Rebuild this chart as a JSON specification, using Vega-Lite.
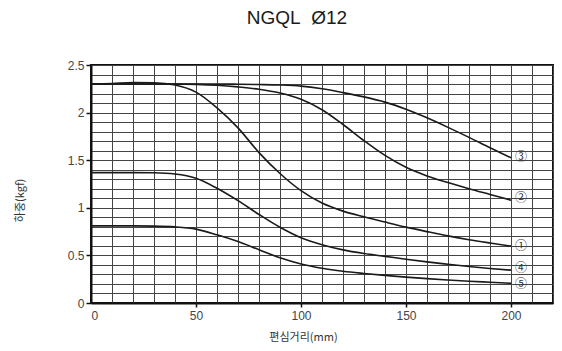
{
  "$schema": "https://vega.github.io/schema/vega-lite/v6.json",
  "autosize": "none",
  "width": 462,
  "height": 238,
  "padding": {"left": 91, "top": 65, "right": 9, "bottom": 48},
  "background": "white",
  "title": {
    "text": "NGQL\u00a0 Ø12",
    "font": "Liberation Sans",
    "fontSize": 19,
    "fontWeight": "normal",
    "color": "#1a1a1a",
    "anchor": "middle",
    "baseline": "bottom",
    "offset": 12,
    "dx": -25
  },
  "config": {
    "view": {"stroke": "#111", "strokeWidth": 2},
    "axis": {
      "labelFont": "Liberation Sans",
      "labelFontSize": 12,
      "labelColor": "#444",
      "labelOverlap": false,
      "titleFont": "Noto Sans CJK KR",
      "titleFontSize": 11,
      "titleFontWeight": "normal",
      "titleColor": "#333",
      "domainColor": "#111",
      "domainWidth": 2,
      "tickColor": "#111",
      "tickWidth": 1.5,
      "gridColor": "#444",
      "gridWidth": 1,
      "gridOpacity": 1
    }
  },
  "datasets": {
    "curves": [
      {"x": 0, "y": 2.30, "s": "3"}, {"x": 10, "y": 2.30, "s": "3"}, {"x": 20, "y": 2.30, "s": "3"}, {"x": 30, "y": 2.30, "s": "3"}, {"x": 40, "y": 2.30, "s": "3"}, {"x": 50, "y": 2.30, "s": "3"}, {"x": 60, "y": 2.30, "s": "3"}, {"x": 70, "y": 2.298, "s": "3"}, {"x": 80, "y": 2.295, "s": "3"}, {"x": 90, "y": 2.29, "s": "3"}, {"x": 100, "y": 2.278, "s": "3"}, {"x": 110, "y": 2.25, "s": "3"}, {"x": 120, "y": 2.21, "s": "3"}, {"x": 130, "y": 2.165, "s": "3"}, {"x": 140, "y": 2.11, "s": "3"}, {"x": 150, "y": 2.035, "s": "3"}, {"x": 160, "y": 1.945, "s": "3"}, {"x": 170, "y": 1.845, "s": "3"}, {"x": 180, "y": 1.74, "s": "3"}, {"x": 190, "y": 1.63, "s": "3"}, {"x": 200, "y": 1.525, "s": "3"},
      {"x": 0, "y": 2.30, "s": "2"}, {"x": 10, "y": 2.30, "s": "2"}, {"x": 20, "y": 2.30, "s": "2"}, {"x": 30, "y": 2.30, "s": "2"}, {"x": 40, "y": 2.30, "s": "2"}, {"x": 50, "y": 2.297, "s": "2"}, {"x": 60, "y": 2.288, "s": "2"}, {"x": 70, "y": 2.27, "s": "2"}, {"x": 80, "y": 2.245, "s": "2"}, {"x": 90, "y": 2.205, "s": "2"}, {"x": 100, "y": 2.14, "s": "2"}, {"x": 110, "y": 2.03, "s": "2"}, {"x": 120, "y": 1.875, "s": "2"}, {"x": 130, "y": 1.705, "s": "2"}, {"x": 140, "y": 1.55, "s": "2"}, {"x": 150, "y": 1.425, "s": "2"}, {"x": 160, "y": 1.335, "s": "2"}, {"x": 170, "y": 1.265, "s": "2"}, {"x": 180, "y": 1.2, "s": "2"}, {"x": 190, "y": 1.14, "s": "2"}, {"x": 200, "y": 1.08, "s": "2"},
      {"x": 0, "y": 2.30, "s": "1"}, {"x": 10, "y": 2.305, "s": "1"}, {"x": 20, "y": 2.315, "s": "1"}, {"x": 30, "y": 2.313, "s": "1"}, {"x": 40, "y": 2.29, "s": "1"}, {"x": 50, "y": 2.215, "s": "1"}, {"x": 60, "y": 2.05, "s": "1"}, {"x": 70, "y": 1.84, "s": "1"}, {"x": 80, "y": 1.58, "s": "1"}, {"x": 90, "y": 1.36, "s": "1"}, {"x": 100, "y": 1.18, "s": "1"}, {"x": 110, "y": 1.05, "s": "1"}, {"x": 120, "y": 0.965, "s": "1"}, {"x": 130, "y": 0.905, "s": "1"}, {"x": 140, "y": 0.85, "s": "1"}, {"x": 150, "y": 0.797, "s": "1"}, {"x": 160, "y": 0.75, "s": "1"}, {"x": 170, "y": 0.705, "s": "1"}, {"x": 180, "y": 0.665, "s": "1"}, {"x": 190, "y": 0.63, "s": "1"}, {"x": 200, "y": 0.597, "s": "1"},
      {"x": 0, "y": 1.37, "s": "4"}, {"x": 10, "y": 1.37, "s": "4"}, {"x": 20, "y": 1.37, "s": "4"}, {"x": 30, "y": 1.368, "s": "4"}, {"x": 40, "y": 1.355, "s": "4"}, {"x": 50, "y": 1.31, "s": "4"}, {"x": 60, "y": 1.205, "s": "4"}, {"x": 70, "y": 1.075, "s": "4"}, {"x": 80, "y": 0.93, "s": "4"}, {"x": 90, "y": 0.795, "s": "4"}, {"x": 100, "y": 0.685, "s": "4"}, {"x": 110, "y": 0.612, "s": "4"}, {"x": 120, "y": 0.558, "s": "4"}, {"x": 130, "y": 0.52, "s": "4"}, {"x": 140, "y": 0.49, "s": "4"}, {"x": 150, "y": 0.46, "s": "4"}, {"x": 160, "y": 0.432, "s": "4"}, {"x": 170, "y": 0.407, "s": "4"}, {"x": 180, "y": 0.383, "s": "4"}, {"x": 190, "y": 0.363, "s": "4"}, {"x": 200, "y": 0.345, "s": "4"},
      {"x": 0, "y": 0.81, "s": "5"}, {"x": 10, "y": 0.81, "s": "5"}, {"x": 20, "y": 0.81, "s": "5"}, {"x": 30, "y": 0.808, "s": "5"}, {"x": 40, "y": 0.80, "s": "5"}, {"x": 50, "y": 0.776, "s": "5"}, {"x": 60, "y": 0.716, "s": "5"}, {"x": 70, "y": 0.645, "s": "5"}, {"x": 80, "y": 0.56, "s": "5"}, {"x": 90, "y": 0.475, "s": "5"}, {"x": 100, "y": 0.41, "s": "5"}, {"x": 110, "y": 0.365, "s": "5"}, {"x": 120, "y": 0.333, "s": "5"}, {"x": 130, "y": 0.31, "s": "5"}, {"x": 140, "y": 0.29, "s": "5"}, {"x": 150, "y": 0.272, "s": "5"}, {"x": 160, "y": 0.256, "s": "5"}, {"x": 170, "y": 0.242, "s": "5"}, {"x": 180, "y": 0.229, "s": "5"}, {"x": 190, "y": 0.218, "s": "5"}, {"x": 200, "y": 0.207, "s": "5"}
    ],
    "labels": [
      {"x": 200, "y": 1.534, "t": "③"},
      {"x": 200, "y": 1.1, "t": "②"},
      {"x": 200, "y": 0.6, "t": "①"},
      {"x": 200, "y": 0.37, "t": "④"},
      {"x": 200, "y": 0.195, "t": "⑤"}
    ]
  },
  "encoding": {
    "x": {
      "field": "x", "type": "quantitative",
      "scale": {"domain": [0, 220], "nice": false},
      "axis": {
        "values": [0, 10, 20, 30, 40, 50, 60, 70, 80, 90, 100, 110, 120, 130, 140, 150, 160, 170, 180, 190, 200, 210, 220],
        "grid": true,
        "labelExpr": "datum.value % 50 === 0 ? '' + datum.value : ''",
        "tickSize": 4,
        "tickOpacity": {"condition": {"test": "datum.value % 50 === 0 && datum.value > 0", "value": 1}, "value": 0},
        "labelPadding": 3,
        "title": "편심거리(mm)",
        "titleX": 212,
        "titleY": 34,
        "titleAlign": "center",
        "titleBaseline": "middle"
      }
    },
    "y": {
      "field": "y", "type": "quantitative",
      "scale": {"domain": [0, 2.5], "nice": false},
      "axis": {
        "values": [0, 0.1, 0.2, 0.3, 0.4, 0.5, 0.6, 0.7, 0.8, 0.9, 1, 1.1, 1.2, 1.3, 1.4, 1.5, 1.6, 1.7, 1.8, 1.9, 2, 2.1, 2.2, 2.3, 2.4, 2.5],
        "grid": true,
        "labelExpr": "round(datum.value * 10) % 5 === 0 ? '' + round(datum.value * 10) / 10 : ''",
        "tickSize": 5,
        "tickOpacity": {"condition": {"test": "round(datum.value * 10) % 5 === 0", "value": 1}, "value": 0},
        "labelPadding": 2,
        "title": "하중(kgf)",
        "titleX": -71,
        "titleY": 135,
        "titleAlign": "center",
        "titleBaseline": "middle",
        "titleAngle": 270
      }
    }
  },
  "layer": [
    {
      "data": {"name": "curves"},
      "mark": {"type": "line", "interpolate": "monotone", "color": "#1a1a1a", "strokeWidth": 1.6},
      "encoding": {
        "detail": {"field": "s", "type": "nominal"}
      }
    },
    {
      "data": {"name": "labels"},
      "mark": {"type": "text", "align": "left", "baseline": "middle", "dx": 4, "font": "Noto Sans CJK KR", "fontSize": 12, "color": "#333"},
      "encoding": {
        "text": {"field": "t", "type": "nominal"}
      }
    }
  ]
}
